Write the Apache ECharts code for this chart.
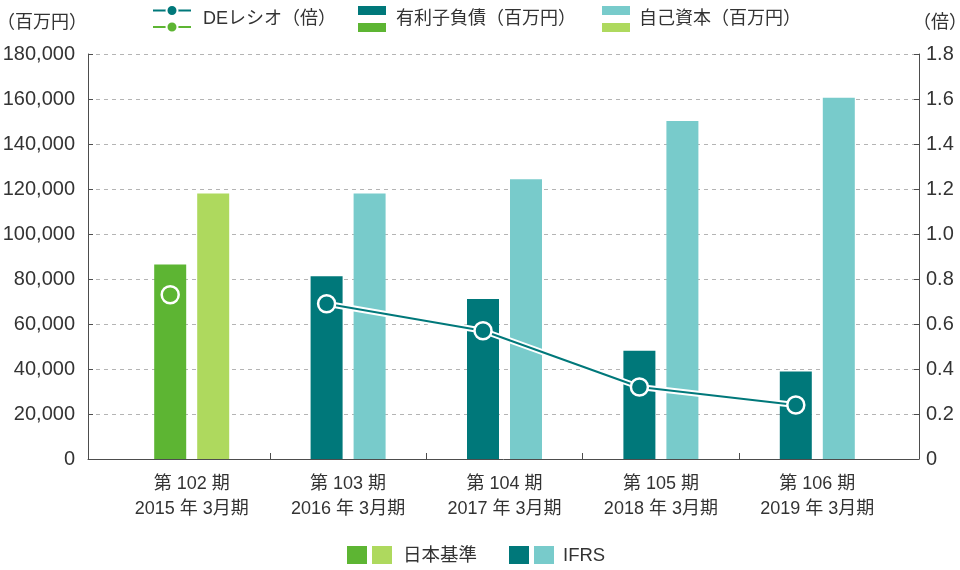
<!DOCTYPE html>
<html><head><meta charset="utf-8">
<script src="https://cdn.jsdelivr.net/npm/echarts@6/dist/echarts.min.js"></script>
<style>html,body{margin:0;padding:0;background:#fff}#c{width:960px;height:570px}</style>
</head><body><div id="c"></div>
<script>
// ---- data ----
const periods = ['第 102 期', '第 103 期', '第 104 期', '第 105 期', '第 106 期'];
const fiscalYears = ['2015 年 3月期', '2016 年 3月期', '2017 年 3月期', '2018 年 3月期', '2019 年 3月期'];
const standards = ['JGAAP', 'IFRS', 'IFRS', 'IFRS', 'IFRS'];
const interestBearingDebt = [86400, 81200, 71100, 48100, 38900];   // 百万円
const equity = [118000, 118000, 124300, 150200, 160600];           // 百万円
const deRatio = [0.73, 0.69, 0.57, 0.32, 0.24];                    // 倍
const leftAxis = { min: 0, max: 180000, interval: 20000 };
const rightAxis = { min: 0, max: 1.8, interval: 0.2 };
const legendTop = ['DEレシオ（倍）', '有利子負債（百万円）', '自己資本（百万円）'];
const legendBottom = ['日本基準', 'IFRS'];

// ---- styles ----
const COLORS = {
  JGAAP: { debt: '#5db533', equity: '#aed95e' },
  IFRS:  { debt: '#00787a', equity: '#78cbcb' }
};
const FONT = '"Liberation Sans", Arial, "Noto Sans CJK JP", sans-serif';
const TXT = '#333333';
const AX = '#4d4d4d';

// layout
const outerL = 88, outerR = 41, innerL = 113.5, innerR = 64.5, gridTop = 54, gridBottom = 111, W = 960;
const barW = 32, barGapPx = 11;
const lineShift = (barW + barGapPx) / 2;   // line points sit on the debt bars
const n = periods.length;
const bandW = (W - innerL - innerR) / n;
const xMin = -(innerL - outerL) / bandW;
const xMax = n + (innerR - outerR) / bandW;
const boundaries = Array.from({ length: n - 1 }, (_, i) => i + 1);

const chart = echarts.init(document.getElementById('c'), null, { renderer: 'canvas' });

const debtData = interestBearingDebt.map((v, i) => ({ value: v, itemStyle: { color: COLORS[standards[i]].debt } }));
const equityData = equity.map((v, i) => ({ value: v, itemStyle: { color: COLORS[standards[i]].equity } }));
const ifrsRatio = deRatio.map((v, i) => standards[i] === 'IFRS' ? { value: v, itemStyle: { color: COLORS.IFRS.debt } } : '-');
const jgaapRatio = deRatio.map((v, i) => standards[i] === 'JGAAP' ? { value: v, itemStyle: { color: COLORS.JGAAP.debt } } : '-');

function txt(x, y, s, size) {
  return { type: 'text', x: x, y: y, silent: true,
    style: { text: s, fill: TXT, fontSize: size, fontFamily: FONT, verticalAlign: 'middle', textVerticalAlign: 'middle' } };
}
function rect(x, y, w, h, c) {
  return { type: 'rect', shape: { x: x, y: y, width: w, height: h }, style: { fill: c }, silent: true };
}
function lineIcon(x, y, c) {
  return [
    { type: 'line', shape: { x1: x, y1: y, x2: x + 38, y2: y }, style: { stroke: c, lineWidth: 2 }, silent: true },
    { type: 'circle', shape: { cx: x + 19, cy: y, r: 5.5 }, style: { fill: c, stroke: '#fff', lineWidth: 2 }, silent: true }
  ];
}

const graphic = [].concat(
  lineIcon(153, 10.5, COLORS.IFRS.debt),
  lineIcon(153, 27, COLORS.JGAAP.debt),
  [txt(203, 19, legendTop[0], 18)],
  [rect(358, 6, 28, 9, COLORS.IFRS.debt), rect(358, 23, 28, 9, COLORS.JGAAP.debt)],
  [txt(396, 19, legendTop[1], 18)],
  [rect(602, 6, 28, 9, COLORS.IFRS.equity), rect(602, 23, 28, 9, COLORS.JGAAP.equity)],
  [txt(639, 19, legendTop[2], 18)],
  [rect(347, 546, 20, 18, COLORS.JGAAP.debt), rect(372, 546, 20, 18, COLORS.JGAAP.equity)],
  [txt(403, 556, legendBottom[0], 18.5)],
  [rect(509, 546, 20, 18, COLORS.IFRS.debt), rect(534, 546, 20, 18, COLORS.IFRS.equity)],
  [txt(563, 556, legendBottom[1], 18.5)]
);

const hiddenY = (gi, ax) => ({ type: 'value', gridIndex: gi, min: ax.min, max: ax.max, show: false });
const gridBase = { top: gridTop, bottom: gridBottom, containLabel: false, outerBoundsMode: 'none' };

const option = {
  animation: false,
  backgroundColor: '#ffffff',
  textStyle: { fontFamily: FONT, color: TXT },
  grid: [
    Object.assign({ left: outerL, right: outerR }, gridBase),
    Object.assign({ left: innerL, right: innerR }, gridBase),
    Object.assign({ left: innerL - lineShift, right: innerR + lineShift }, gridBase)
  ],
  xAxis: [
    { type: 'value', gridIndex: 0, min: xMin, max: xMax,
      axisLine: { show: true, onZero: false, lineStyle: { color: AX, width: 1 } },
      axisTick: { show: true, inside: true, length: 6, customValues: boundaries, lineStyle: { color: AX } },
      axisLabel: { show: false }, splitLine: { show: false } },
    { type: 'category', gridIndex: 1, data: periods.map((p, i) => p + '\n' + fiscalYears[i]),
      axisLine: { show: false, onZero: false }, axisTick: { show: false },
      axisLabel: { margin: 13, fontSize: 18, lineHeight: 25, color: TXT, fontFamily: FONT } },
    { type: 'category', gridIndex: 2, data: periods, show: false }
  ],
  yAxis: [
    { type: 'value', gridIndex: 0, position: 'left', min: leftAxis.min, max: leftAxis.max, interval: leftAxis.interval,
      name: '（百万円）', nameLocation: 'end', nameGap: 22,
      nameTextStyle: { align: 'right', fontSize: 18, color: TXT, fontFamily: FONT, padding: [0, 1, 0, 0] },
      axisLine: { show: true, onZero: false, lineStyle: { color: AX } },
      axisTick: { show: true, inside: true, length: 5, lineStyle: { color: AX } },
      axisLabel: { fontSize: 20, color: TXT, margin: 13, fontFamily: FONT, formatter: v => v.toLocaleString('en-US') },
      splitLine: { show: true, lineStyle: { type: [4, 4], color: '#b4b4b4', width: 1 } } },
    { type: 'value', gridIndex: 0, position: 'right', min: rightAxis.min, max: rightAxis.max, interval: rightAxis.interval,
      name: '（倍）', nameLocation: 'end', nameGap: 22,
      nameTextStyle: { align: 'center', fontSize: 18, color: TXT, fontFamily: FONT, padding: [0, 0, 0, 42] },
      axisLine: { show: true, onZero: false, lineStyle: { color: AX } },
      axisTick: { show: true, inside: true, length: 5, lineStyle: { color: AX } },
      axisLabel: { fontSize: 20, color: TXT, margin: 7, fontFamily: FONT, formatter: v => v === 0 ? '0' : v.toFixed(1) },
      splitLine: { show: false } },
    hiddenY(1, leftAxis),
    hiddenY(2, rightAxis)
  ],
  series: [
    { name: legendTop[1], type: 'bar', xAxisIndex: 1, yAxisIndex: 2, barWidth: barW, barGap: (barGapPx / barW * 100) + '%', data: debtData },
    { name: legendTop[2], type: 'bar', xAxisIndex: 1, yAxisIndex: 2, barWidth: barW, barGap: (barGapPx / barW * 100) + '%', data: equityData },
    { name: 'halo', type: 'line', xAxisIndex: 2, yAxisIndex: 3, data: ifrsRatio.map(d => d === '-' ? '-' : d.value),
      showSymbol: false, silent: true, z: 3, lineStyle: { color: '#ffffff', width: 6 } },
    { name: legendTop[0], type: 'line', xAxisIndex: 2, yAxisIndex: 3, data: ifrsRatio, z: 4,
      symbol: 'circle', symbolSize: 17, showAllSymbol: true,
      lineStyle: { color: COLORS.IFRS.debt, width: 2 },
      itemStyle: { color: COLORS.IFRS.debt, borderColor: '#ffffff', borderWidth: 2.5 } },
    { name: legendTop[0] + ' JGAAP', type: 'line', xAxisIndex: 2, yAxisIndex: 3, data: jgaapRatio, z: 4,
      symbol: 'circle', symbolSize: 17, showAllSymbol: true,
      lineStyle: { color: COLORS.JGAAP.debt, width: 2 },
      itemStyle: { color: COLORS.JGAAP.debt, borderColor: '#ffffff', borderWidth: 2.5 } }
  ],
  graphic: graphic
};
chart.setOption(option);
</script>
</body></html>
